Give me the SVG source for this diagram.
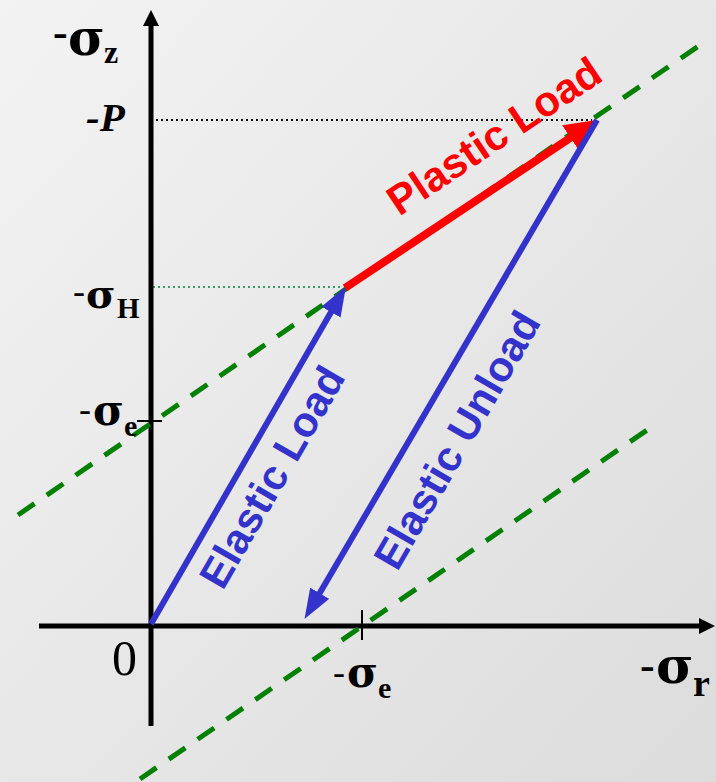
<svg xmlns="http://www.w3.org/2000/svg" width="716" height="782" viewBox="0 0 716 782">
<defs>
<linearGradient id="bg" x1="0" y1="0" x2="1" y2="1">
<stop offset="0" stop-color="#f3f3f3"/>
<stop offset="1" stop-color="#dcdcdc"/>
</linearGradient>
<marker id="axh" viewBox="0 0 16 16" refX="2" refY="8" markerWidth="16" markerHeight="16" markerUnits="userSpaceOnUse" orient="auto">
<path d="M0,0 L16,8 L0,16 z" fill="#000"/>
</marker>
<marker id="blueh" viewBox="0 0 30 22" refX="14" refY="11" markerWidth="30" markerHeight="22" markerUnits="userSpaceOnUse" orient="auto">
<path d="M0,0 L30,11 L0,22 z" fill="#3333cc"/>
</marker>
<marker id="redh" viewBox="0 0 32 30" refX="16" refY="15" markerWidth="32" markerHeight="30" markerUnits="userSpaceOnUse" orient="auto">
<path d="M0,0 L32,15 L0,30 z" fill="#ff0000"/>
</marker>
<style>
.axis{stroke:#000;stroke-width:5;fill:none}
.tick{stroke:#000;stroke-width:2;fill:none}
.yield{stroke:#008000;stroke-width:5;stroke-dasharray:20 15;fill:none}
.blue{stroke:#3333cc;stroke-width:6;fill:none}
.red{stroke:#ff0000;stroke-width:8;fill:none}
.lbl{font-family:"Liberation Sans",Arial,sans-serif;font-weight:bold;font-size:42px;text-anchor:middle;dominant-baseline:central}
.sym{font-family:"Liberation Serif","Times New Roman",serif;font-weight:bold;fill:#000}
.sig{font-family:"DejaVu Serif",serif;font-weight:bold}
.thin{font-weight:normal}
</style>
</defs>
<rect width="716" height="782" fill="url(#bg)"/>

<g id="connectors">
<line x1="151" y1="120" x2="592" y2="120" stroke="#000" stroke-width="2" stroke-dasharray="2 3"/>
<line x1="153" y1="287" x2="343" y2="287" stroke="#3a9a6a" stroke-width="2" stroke-dasharray="2 3"/>
<line class="axis" x1="151" y1="726" x2="151" y2="24" marker-end="url(#axh)"/>
<line class="axis" x1="39" y1="626" x2="701" y2="626" marker-end="url(#axh)"/>
<line class="tick" x1="362" y1="610" x2="362" y2="640"/>
<line class="tick" x1="137" y1="421" x2="162" y2="421"/>
<line class="yield" x1="18" y1="515" x2="700" y2="45"/>
<line class="yield" x1="140" y1="779" x2="650" y2="428"/>
<line class="blue" x1="151" y1="624" x2="338" y2="300" marker-end="url(#blueh)"/>
<line class="red" x1="345" y1="288" x2="583.7" y2="128.9" marker-end="url(#redh)"/>
<line class="blue" x1="597" y1="120" x2="312.6" y2="605.3" marker-end="url(#blueh)"/>
</g>

<g id="label-sz"><text class="sym"><tspan x="53" y="47" font-size="44">-</tspan><tspan class="sig" x="68" y="55" font-size="50">σ</tspan><tspan x="104" y="63" font-size="32">z</tspan></text></g>
<g id="label-P"><text x="86" y="131" font-family="Liberation Serif,serif" font-weight="bold" font-style="italic" font-size="41">-P</text></g>
<g id="label-sH"><text class="sym"><tspan class="thin" x="73" y="303" font-size="36">-</tspan><tspan class="sig" x="86" y="308" font-size="40">σ</tspan><tspan x="117" y="318" font-size="29">H</tspan></text></g>
<g id="label-se-v"><text class="sym"><tspan class="thin" x="79" y="421" font-size="36">-</tspan><tspan class="sig" x="93" y="425" font-size="42">σ</tspan><tspan x="124" y="436" font-size="30">e</tspan></text></g>
<g id="label-0"><text x="112" y="675" font-family="Liberation Serif,serif" font-size="50">0</text></g>
<g id="label-se-h"><text class="sym"><tspan class="thin" x="333" y="684" font-size="36">-</tspan><tspan class="sig" x="347" y="687" font-size="42">σ</tspan><tspan x="378" y="698" font-size="30">e</tspan></text></g>
<g id="label-sr"><text class="sym"><tspan x="640" y="680" font-size="44">-</tspan><tspan class="sig" x="656" y="683" font-size="51">σ</tspan><tspan x="693" y="696" font-size="38">r</tspan></text></g>

<g id="plastic-load"><text class="lbl" fill="#ff0000" transform="translate(494,136) rotate(-33.7)">Plastic Load</text></g>
<g id="elastic-load"><text class="lbl" fill="#3333cc" transform="translate(272,477) rotate(-60)">Elastic Load</text></g>
<g id="elastic-unload"><text class="lbl" fill="#3333cc" transform="translate(457,440) rotate(-60)">Elastic Unload</text></g>
</svg>
